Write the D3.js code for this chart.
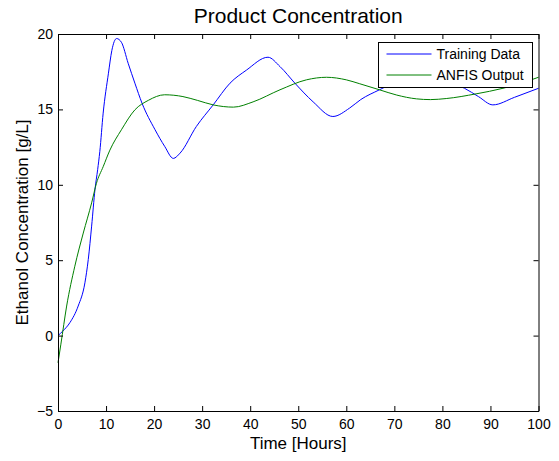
<!DOCTYPE html>
<html>
<head>
<meta charset="utf-8">
<script src="https://cdn.jsdelivr.net/npm/d3@7"></script>
<style>
  body { margin: 0; background: #fff; }
  svg { font-family: "Liberation Sans", Arial, sans-serif; }
</style>
</head>
<body>
<div id="chart"></div>
<script>
// values
const trainTime = [0, 1, 2.5, 4.2, 5.6, 6.3, 7, 7.7, 8.25, 8.7, 9.4, 10.5, 11.2, 12.2, 13.2, 14.6, 16, 17.5,
  20.2, 22.2, 24, 25.4, 28.8, 32.3, 35.8, 39.2, 43.7, 46.2, 49.3, 53.1, 57.2, 60.7, 63, 66.9, 71, 75.5, 80,
  84.6, 87.5, 90.5, 95, 100]
const trainConc = [0, 0.3, 0.87, 1.96, 3.5, 5.05, 7.26, 9.7, 11, 12.2, 14.75, 17.4, 18.9, 19.7, 19.45, 18.06, 16.74, 15.4,
  13.65, 12.55, 11.75, 12.1, 13.87, 15.3, 16.74, 17.6, 18.46, 17.84, 16.74, 15.5, 14.53, 15.09, 15.65, 16.3, 16.9, 17.3, 16.95,
  16.4, 15.85, 15.3, 15.8, 16.4]

const anfisTime = [0, 0.6, 1.8, 3.5, 5.26, 7, 8, 9.4, 10.8, 13.2, 16, 18.8, 22.2, 26, 29, 32.3, 36.5, 40.6, 46.2,
  51.7, 55.9, 60, 62.8, 66.9, 70.5, 74.6, 77.5, 80.8, 87, 92.6, 96, 100]
const anfisConc = [-1.8, -0.57, 1.96, 4.6, 6.8, 8.8, 10.1, 11.2, 12.3, 13.65, 14.97, 15.6, 15.97, 15.85, 15.6, 15.3, 15.15, 15.5, 16.3,
  16.96, 17.13, 16.96, 16.7, 16.3, 15.95, 15.7, 15.65, 15.72, 16.03, 16.4, 16.7, 17.13]

const xTicks = [0, 10, 20, 30, 40, 50, 60, 70, 80, 90, 100]
const yTicks = [-5, 0, 5, 10, 15, 20]
const seriesNames = ["Training Data", "ANFIS Output"]
const seriesColors = ["#0000ff", "#008000"]

const width = 559, height = 461
const margin = { top: 34, right: 20, bottom: 50, left: 58 }

const svg = d3.select("#chart").append("svg")
  .attr("width", width)
  .attr("height", height)

const x = d3.scaleLinear().domain([0, 100]).range([margin.left, width - margin.right - 0.5])
const y = d3.scaleLinear().domain([-5, 20]).range([height - margin.bottom, margin.top])

const line = d3.line()
  .x(d => x(d[0]))
  .y(d => y(d[1]))
  .curve(d3.curveMonotoneX)

const series = [
  d3.zip(trainTime, trainConc),
  d3.zip(anfisTime, anfisConc)
]

svg.append("g").selectAll("path")
  .data(series)
  .enter().append("path")
  .attr("d", line)
  .attr("fill", "none")
  .attr("stroke", (d, i) => seriesColors[i])
  .attr("stroke-width", 1)

// axes, MATLAB style: ticks inside on all four sides
const tickLen = 5
svg.append("g").attr("transform", `translate(0,${y(-5)})`)
  .call(d3.axisBottom(x).tickValues(xTicks).tickSizeInner(-tickLen).tickSizeOuter(0).tickPadding(8))
svg.append("g").attr("transform", `translate(0,${y(20)})`)
  .call(d3.axisTop(x).tickValues(xTicks).tickSizeInner(-tickLen).tickSizeOuter(0).tickFormat(""))
svg.append("g").attr("transform", `translate(${x(0)},0)`)
  .call(d3.axisLeft(y).tickValues(yTicks).tickSizeInner(-tickLen).tickSizeOuter(0).tickPadding(5))
svg.append("g").attr("transform", `translate(${x(100)},0)`)
  .call(d3.axisRight(y).tickValues(yTicks).tickSizeInner(-tickLen).tickSizeOuter(0).tickFormat(""))

svg.selectAll(".domain").attr("stroke", "#000")
svg.selectAll(".tick line").attr("stroke", "#000")
svg.selectAll(".tick text").attr("font-size", 14).attr("fill", "#000")
  .attr("font-family", "Liberation Sans, Arial, sans-serif")

// legend
const lg = svg.append("g").attr("transform", "translate(378.5,42.5)")
lg.append("rect")
  .attr("width", 154).attr("height", 45)
  .attr("fill", "#fff").attr("stroke", "#000")
seriesNames.forEach((name, i) => {
  const ly = 11.5 + i * 21
  lg.append("line")
    .attr("x1", 8).attr("x2", 53).attr("y1", ly).attr("y2", ly)
    .attr("stroke", seriesColors[i])
  lg.append("text")
    .attr("x", 58).attr("y", ly + 5)
    .attr("font-size", 14)
    .text(name)
})

// titles
svg.append("text")
  .attr("x", (x(0) + x(100)) / 2).attr("y", 23)
  .attr("text-anchor", "middle")
  .attr("font-size", 21)
  .text("Product Concentration")

svg.append("text")
  .attr("x", (x(0) + x(100)) / 2).attr("y", 449)
  .attr("text-anchor", "middle")
  .attr("font-size", 17)
  .text("Time [Hours]")

svg.append("text")
  .attr("transform", `translate(28,${(y(-5) + y(20)) / 2}) rotate(-90)`)
  .attr("text-anchor", "middle")
  .attr("font-size", 17)
  .text("Ethanol Concentration [g/L]")
</script>
</body>
</html>
